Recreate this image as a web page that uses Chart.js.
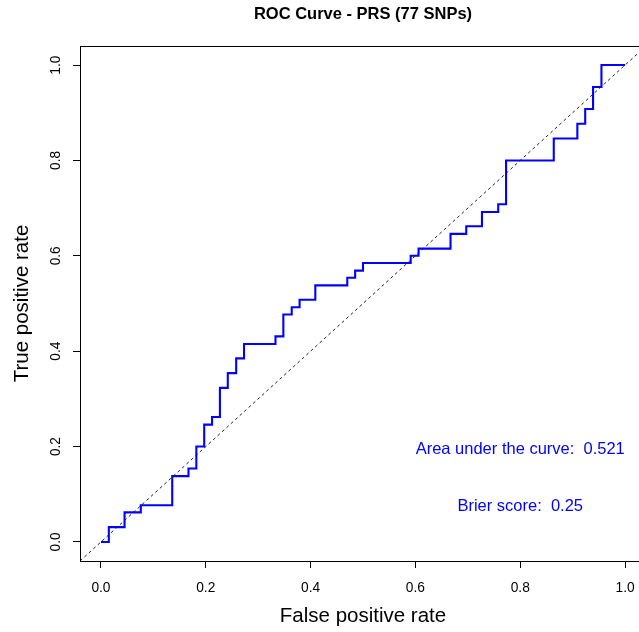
<!DOCTYPE html>
<html>
<head>
<meta charset="utf-8">
<script src="https://cdn.jsdelivr.net/npm/chart.js@4/dist/chart.umd.min.js"></script>
<style>
  html, body { margin: 0; padding: 0; background: #fff; overflow: hidden; }
  #wrap { width: 660px; height: 632px; }
</style>
</head>
<body>
<div id="wrap"><canvas id="c" width="660" height="632"></canvas></div>
<script>
// ROC curve corners (false positive rate, true positive rate)
const fpr = [0.000, 0.015, 0.045, 0.076, 0.136, 0.167, 0.182, 0.197, 0.212, 0.227,
             0.242, 0.258, 0.273, 0.333, 0.348, 0.364, 0.379, 0.409, 0.470, 0.485,
             0.500, 0.591, 0.606, 0.667, 0.697, 0.727, 0.758, 0.773, 0.864, 0.909,
             0.924, 0.939, 0.955, 1.000];
const tpr = [0.000, 0.031, 0.062, 0.077, 0.138, 0.154, 0.200, 0.246, 0.262, 0.323,
             0.354, 0.385, 0.415, 0.431, 0.477, 0.492, 0.508, 0.538, 0.554, 0.569,
             0.585, 0.600, 0.615, 0.646, 0.662, 0.692, 0.708, 0.800, 0.846, 0.877,
             0.908, 0.954, 1.000, 1.000];
// reference diagonal (y = x)
const diagX = [-0.04, 1.04];
const diagY = [-0.04, 1.04];
const xTickValues = [0, 0.2, 0.4, 0.6, 0.8, 1.0];
const yTickValues = [0, 0.2, 0.4, 0.6, 0.8, 1.0];
const aucValue = 0.521;
const brierValue = 0.25;

const FONT = "'Liberation Sans', Arial, Helvetica, sans-serif";

const rocPoints = fpr.map((x, i) => ({ x: x, y: tpr[i] }));
const diagPoints = diagX.map((x, i) => ({ x: x, y: diagY[i] }));

const boxPlugin = {
  id: 'boxAndText',
  afterDatasetsDraw(chart) {
    const { ctx, chartArea: a, scales } = chart;
    ctx.save();
    ctx.strokeStyle = '#000';
    ctx.lineWidth = 1;
    ctx.strokeRect(Math.round(a.left) + 0.5, Math.round(a.top) + 0.5,
                   Math.round(a.right - a.left), Math.round(a.bottom - a.top));
    ctx.fillStyle = '#0000ff';
    ctx.font = '16.5px ' + FONT;
    ctx.textAlign = 'center';
    ctx.textBaseline = 'middle';
    ctx.fillText('Area under the curve:  ' + aucValue.toFixed(3),
                 scales.x.getPixelForValue(0.8), scales.y.getPixelForValue(0.2) + 2.5);
    ctx.fillText('Brier score:  ' + brierValue.toFixed(2),
                 scales.x.getPixelForValue(0.8), scales.y.getPixelForValue(0.08) + 2.5);
    ctx.restore();
  }
};

new Chart(document.getElementById('c'), {
  type: 'line',
  data: {
    datasets: [
      {
        label: 'ROC',
        data: rocPoints,
        borderColor: '#0000ff',
        borderWidth: 2.1,
        pointRadius: 0,
        stepped: 'before',
        fill: false
      },
      {
        label: 'diagonal',
        data: diagPoints,
        borderColor: '#222',
        borderWidth: 1,
        borderDash: [3, 3],
        pointRadius: 0,
        fill: false
      }
    ]
  },
  options: {
    responsive: false,
    animation: false,
    devicePixelRatio: 1,
    layout: { padding: { left: 0, right: 14, top: 0, bottom: 0 } },
    plugins: {
      legend: { display: false },
      tooltip: { enabled: false },
      title: {
        display: true,
        fullSize: false,
        text: 'ROC Curve - PRS (77 SNPs)',
        color: '#000',
        font: { family: FONT, size: 16.5, weight: 'bold', lineHeight: 1.2 },
        padding: { top: 5, bottom: 21.2 }
      }
    },
    scales: {
      x: {
        type: 'linear',
        min: -0.04,
        max: 1.04,
        afterBuildTicks: (s) => { s.ticks = xTickValues.map(v => ({ value: v })); },
        afterFit: (s) => { s.height = 71; },
        ticks: {
          color: '#000',
          font: { family: FONT, size: 13.75 },
          padding: 11.5,
          maxRotation: 0,
          autoSkip: false,
          callback: (v) => Number(v).toFixed(1)
        },
        grid: { display: true, drawOnChartArea: false, drawTicks: true, tickLength: 7, color: '#000', lineWidth: 1 },
        border: { display: false },
        title: {
          display: true,
          text: 'False positive rate',
          color: '#000',
          font: { family: FONT, size: 20.5, lineHeight: 1.2 },
          padding: { top: 0, bottom: 3.5 }
        }
      },
      y: {
        type: 'linear',
        min: -0.04,
        max: 1.04,
        afterBuildTicks: (s) => { s.ticks = yTickValues.map(v => ({ value: v })); },
        afterFit: (s) => { s.width = 80; },
        ticks: {
          color: '#000',
          font: { family: FONT, size: 13.75 },
          padding: 7.5,
          minRotation: 90,
          maxRotation: 90,
          crossAlign: 'center',
          autoSkip: false,
          callback: (v) => Number(v).toFixed(1)
        },
        grid: { display: true, drawOnChartArea: false, drawTicks: true, tickLength: 7, color: '#000', lineWidth: 1 },
        border: { display: false },
        title: {
          display: true,
          text: 'True positive rate',
          color: '#000',
          font: { family: FONT, size: 20.5, lineHeight: 1.2 },
          padding: { top: 10.5, bottom: 0 }
        }
      }
    }
  },
  plugins: [boxPlugin]
});
</script>
</body>
</html>
